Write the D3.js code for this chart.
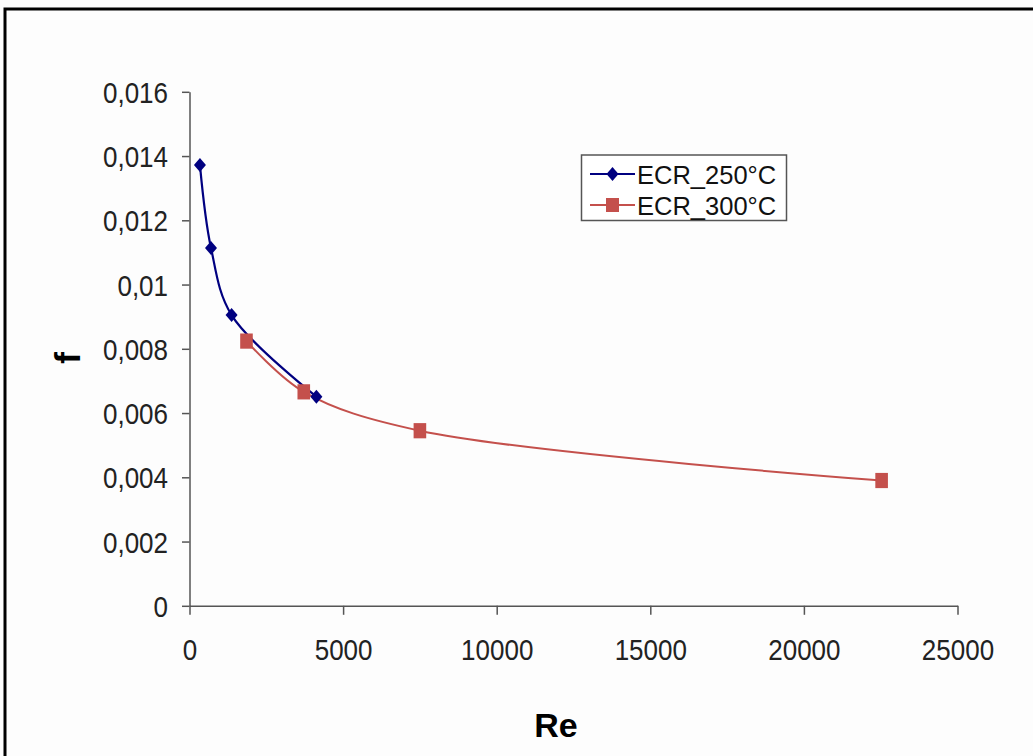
<!DOCTYPE html>
<html><head><meta charset="utf-8">
<script src="https://cdn.jsdelivr.net/npm/d3@7"></script>
<style>body{margin:0;background:#fff}svg{display:block}</style>
</head><body>
<script>
const xTicks = [0, 5000, 10000, 15000, 20000, 25000];
const yTicks = [0, 0.002, 0.004, 0.006, 0.008, 0.01, 0.012, 0.014, 0.016];
const yTickLabels = ["0", "0,002", "0,004", "0,006", "0,008", "0,01", "0,012", "0,014", "0,016"];
const re250 = [340, 700, 1370, 4130];
const f250 = [0.01372, 0.01114, 0.00905, 0.00651];
const re300 = [1855, 3720, 7500, 22530];
const f300 = [0.00824, 0.00666, 0.00545, 0.0039];
const seriesNames = ["ECR_250°C", "ECR_300°C"];
const xTitle = "Re", yTitle = "f";

const W = 1033, H = 756;
const svg = d3.select("body").append("svg").attr("width", W).attr("height", H);
svg.append("rect").attr("width", W).attr("height", H).attr("fill", "#fdfdfd");
svg.append("rect").attr("x", 5).attr("y", 9).attr("width", 1100).attr("height", 800)
  .attr("fill", "none").attr("stroke", "#000").attr("stroke-width", 3);

const x = d3.scaleLinear().domain([0, 25000]).range([189.5, 957.5]);
const y = d3.scaleLinear().domain([0, 0.016]).range([605.8, 91.8]);
const axisColor = "#555";
const font = "'Liberation Sans', Arial, sans-serif";

const gx = svg.append("g").attr("transform", `translate(0,${y(0)})`)
  .call(d3.axisBottom(x).tickValues(xTicks).tickFormat(d3.format("d")).tickSize(9).tickSizeOuter(0));
gx.select(".domain").attr("stroke", axisColor).attr("stroke-width", 1.5);
gx.selectAll(".tick line").attr("stroke", axisColor).attr("stroke-width", 1.5);
gx.selectAll("text").attr("font-family", font).attr("font-size", 26).attr("fill", "#222")
  .attr("y", 30.6).attr("dy", "0.71em").attr("transform", "scale(1,1.11)");

const gy = svg.append("g").attr("transform", `translate(${x(0)},0)`)
  .call(d3.axisLeft(y).tickValues(yTicks).tickFormat((d, i) => yTickLabels[i]).tickSize(7.5).tickSizeOuter(0));
gy.select(".domain").attr("stroke", axisColor).attr("stroke-width", 1.5);
gy.selectAll(".tick line").attr("stroke", axisColor).attr("stroke-width", 1.5);
gy.selectAll("text").attr("font-family", font).attr("font-size", 26).attr("fill", "#222")
  .attr("x", -21.5).attr("dy", "0.37em").attr("transform", "scale(1,1.11)");

const blue = "#000080", red = "#c4504c";
const line = d3.line().x(d => x(d[0])).y(d => y(d[1])).curve(d3.curveCatmullRom.alpha(0.5));
const d250 = re250.map((r, i) => [r, f250[i]]);
const d300 = re300.map((r, i) => [r, f300[i]]);

svg.append("path").attr("d", line(d300)).attr("fill", "none").attr("stroke", red).attr("stroke-width", 2);
svg.append("path").attr("d", line(d250)).attr("fill", "none").attr("stroke", blue).attr("stroke-width", 2.2);

const diamond = (cx, cy) => `M${cx},${cy-7}L${cx+6},${cy}L${cx},${cy+7}L${cx-6},${cy}Z`;
svg.selectAll(".m250").data(d250).join("path").attr("class", "m250")
  .attr("d", d => diamond(x(d[0]), y(d[1]))).attr("fill", blue);
svg.selectAll(".m300").data(d300).join("rect").attr("class", "m300")
  .attr("x", d => x(d[0]) - 6.3).attr("y", d => y(d[1]) - 7.6)
  .attr("width", 12.6).attr("height", 15.2).attr("fill", red);

// legend
const lg = svg.append("g");
lg.append("rect").attr("x", 581.5).attr("y", 155).attr("width", 205).attr("height", 65.5)
  .attr("fill", "#fff").attr("stroke", "#555").attr("stroke-width", 1.5);
const rows = [{name: seriesNames[0], c: blue, yy: 174, m: "d"}, {name: seriesNames[1], c: red, yy: 205, m: "s"}];
rows.forEach(r => {
  lg.append("line").attr("x1", 590).attr("x2", 635).attr("y1", r.yy).attr("y2", r.yy)
    .attr("stroke", r.c).attr("stroke-width", 2.2);
  if (r.m === "d") lg.append("path").attr("d", diamond(612.5, r.yy)).attr("fill", r.c);
  else lg.append("rect").attr("x", 606).attr("y", r.yy - 7).attr("width", 13).attr("height", 14).attr("fill", r.c);
  lg.append("text").attr("x", 637).attr("y", r.yy + 9.5).attr("font-family", font).attr("font-size", 25.5)
    .attr("fill", "#111").text(r.name);
});

svg.append("text").attr("x", 556).attr("y", 737).attr("text-anchor", "middle")
  .attr("font-family", font).attr("font-weight", "bold").attr("font-size", 34).attr("fill", "#000").text(xTitle);
svg.append("text").attr("transform", "translate(80,358) rotate(-90)").attr("text-anchor", "middle")
  .attr("font-family", font).attr("font-weight", "bold").attr("font-size", 35).attr("fill", "#000").text(yTitle);
</script>
</body></html>
